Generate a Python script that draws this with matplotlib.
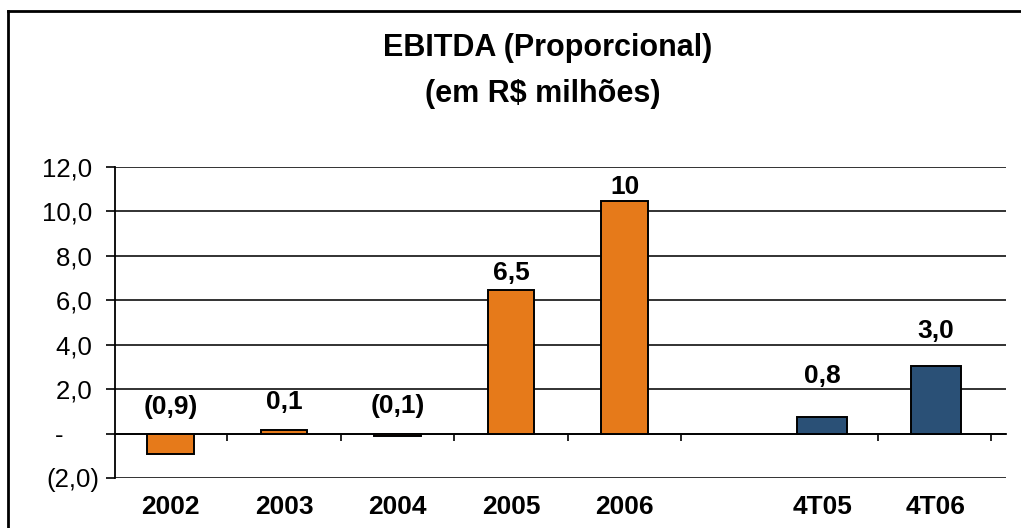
import matplotlib
matplotlib.use("Agg")
import matplotlib.pyplot as plt
from matplotlib.lines import Line2D
from matplotlib.ticker import FixedLocator, FuncFormatter

# data
categories = ["2002", "2003", "2004", "2005", "2006", "4T05", "4T06"]
values = [-0.9, 0.15, -0.1, 6.47, 10.45, 0.75, 3.03]
value_labels = ["(0,9)", "0,1", "(0,1)", "6,5", "10", "0,8", "3,0"]
is_quarter = [False, False, False, False, False, True, True]
y_ticks = [-2, 0, 2, 4, 6, 8, 10, 12]

# layout
x_pos = [0, 1, 2, 3, 4, 5.74, 6.74]
boundaries = [0.5, 1.5, 2.5, 3.5, 4.5, 6.23, 7.23]
label_offset_px = [27, 28, 28, 17, 14, 41, 35]
orange = "#E67A1A"
navy = "#2A5076"

plt.rcParams['font.family'] = ['Liberation Sans', 'DejaVu Sans']

fig = plt.figure(figsize=(10.21, 5.28), dpi=100)
ax = fig.add_axes([115/1021, 50/528, 891/1021, 311/528])

colors = [navy if q else orange for q in is_quarter]
widths = [0.44 if q else 0.41 for q in is_quarter]
ax.bar(x_pos, values, width=widths, color=colors, edgecolor="black", linewidth=1.4, zorder=3)

ax.set_ylim(-2, 12)
ax.set_xlim(-0.49, 7.36)

def fmt_y(v, pos):
  if v == 0:
    return "-\u2007\u2007 "
  if v < 0:
    return "(%s)" % ("%.1f" % abs(v)).replace(".", ",")
  return ("%.1f" % v).replace(".", ",") + " "

ax.yaxis.set_major_locator(FixedLocator(y_ticks))
ax.yaxis.set_major_formatter(FuncFormatter(fmt_y))
ax.tick_params(axis="y", direction="out", length=6.5, width=1.2, labelsize=18.5, pad=5)
ax.grid(axis="y", color="#222222", linewidth=1.3, zorder=1)

# x axis sits at zero, category labels drawn under the plot
ax.spines["bottom"].set_position(("data", 0))
ax.spines["bottom"].set_linewidth(1.3)
ax.spines["left"].set_linewidth(1.3)
ax.spines["top"].set_visible(False)
ax.spines["right"].set_visible(False)
ax.xaxis.set_major_locator(FixedLocator(boundaries))
ax.set_xticklabels([])
ax.tick_params(axis="x", direction="out", length=5, width=1.2)

for x, cat in zip(x_pos, categories):
  ax.annotate(cat, xy=(x, -2), xycoords="data", xytext=(0, -29), textcoords="offset pixels",
    ha="center", va="center", fontsize=19, fontweight="bold")

for x, v, lab, off in zip(x_pos, values, value_labels, label_offset_px):
  ax.annotate(lab, xy=(x, max(v, 0)), xycoords="data", xytext=(0, off), textcoords="offset pixels",
    ha="center", va="center", fontsize=19, fontweight="bold")

fig.text(548/1021, 1 - 48/528, "EBITDA (Proporcional)", ha="center", va="center", fontsize=22, fontweight="bold")
fig.text(543/1021, 1 - 94/528, "(em R$ milhões)", ha="center", va="center", fontsize=22, fontweight="bold")

# frame around the chart (left and top visible)
fig.add_artist(Line2D([8/1021, 8/1021], [0, 1 - 11/528], transform=fig.transFigure, color="black", linewidth=2))
fig.add_artist(Line2D([8/1021, 1], [1 - 11/528, 1 - 11/528], transform=fig.transFigure, color="black", linewidth=2))

fig.savefig("out.png", dpi=100)
